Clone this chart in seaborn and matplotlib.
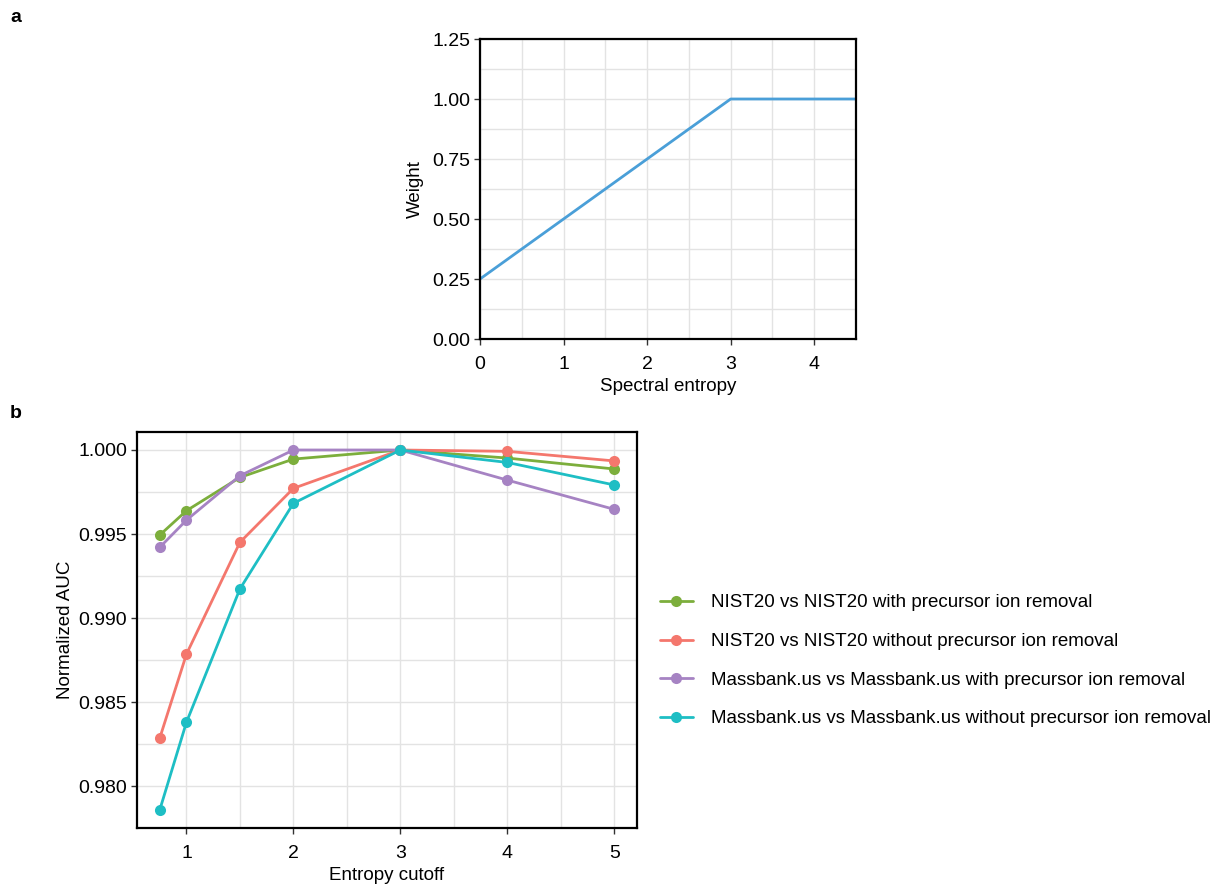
import numpy as np
import pandas as pd
import matplotlib
matplotlib.use("Agg")
import matplotlib.pyplot as plt
from matplotlib.ticker import MultipleLocator, FormatStrFormatter
import seaborn as sns

# Panel a: entropy weighting function
entropy_x = [0.0, 3.0, 4.5]
weight_y = [0.25, 1.0, 1.0]

# Panel b: normalized AUC versus entropy cutoff
cutoffs = [0.75, 1.0, 1.5, 2.0, 3.0, 4.0, 5.0]
series_names = [
    "NIST20 vs NIST20 with precursor ion removal",
    "NIST20 vs NIST20 without precursor ion removal",
    "Massbank.us vs Massbank.us with precursor ion removal",
    "Massbank.us vs Massbank.us without precursor ion removal",
]
nist_with = [0.99494, 0.99639, 0.99837, 0.99946, 1.0, 0.99952, 0.99887]
nist_without = [0.98286, 0.98786, 0.99451, 0.99772, 1.0, 0.99992, 0.99935]
mb_with = [0.99421, 0.99583, 0.99847, 1.0, 1.0, 0.99821, 0.99647]
mb_without = [0.97859, 0.98381, 0.99174, 0.99683, 1.0, 0.99926, 0.99792]
series_colors = ["#7cae3c", "#f4776d", "#a683c3", "#1ebec4"]

sns.set_theme(style="white")
plt.rcParams["font.family"] = ["Liberation Sans", "DejaVu Sans"]
plt.rcParams["text.color"] = "black"
plt.rcParams["axes.labelcolor"] = "black"

TICK_FS = 14
LABEL_FS = 13.5
GRID = "#e3e3e3"

fig = plt.figure(figsize=(12.14, 8.84), dpi=100)


def style_axes(ax):
    for sp in ax.spines.values():
        sp.set_visible(True)
        sp.set_color("black")
        sp.set_linewidth(1.6)
    ax.grid(True, which="both", color=GRID, linewidth=1.0)
    ax.set_axisbelow(True)
    ax.tick_params(axis="both", which="major", direction="out", length=4,
                   width=1.0, color="#333333", labelsize=TICK_FS,
                   labelcolor="black", bottom=True, left=True)
    ax.tick_params(axis="x", which="major", pad=8)
    ax.tick_params(axis="y", which="major", pad=3)
    ax.tick_params(axis="both", which="minor", length=0)


# ---- panel a ----
ax_a = fig.add_axes([480 / 1214, 1 - 339 / 884, 376 / 1214, 300 / 884])
df_a = pd.DataFrame({"entropy": entropy_x, "weight": weight_y})
sns.lineplot(data=df_a, x="entropy", y="weight", ax=ax_a,
             color="#4a9fd8", linewidth=2.0)
ax_a.set_xlim(0, 4.5)
ax_a.set_ylim(0, 1.25)
ax_a.xaxis.set_major_locator(MultipleLocator(1))
ax_a.xaxis.set_minor_locator(MultipleLocator(0.5))
ax_a.yaxis.set_major_locator(MultipleLocator(0.25))
ax_a.yaxis.set_minor_locator(MultipleLocator(0.125))
ax_a.yaxis.set_major_formatter(FormatStrFormatter("%.2f"))
ax_a.set_xlabel("Spectral entropy", fontsize=LABEL_FS, labelpad=3.5)
ax_a.set_ylabel("Weight", fontsize=LABEL_FS, labelpad=6)
style_axes(ax_a)

# ---- panel b ----
ax_b = fig.add_axes([137 / 1214, 1 - 828 / 884, 500 / 1214, 396 / 884])
rows = []
for name, vals in zip(series_names, [nist_with, nist_without, mb_with, mb_without]):
    for c, v in zip(cutoffs, vals):
        rows.append({"cutoff": c, "auc": v, "series": name})
df_b = pd.DataFrame(rows)
sns.lineplot(data=df_b, x="cutoff", y="auc", hue="series",
             hue_order=series_names, palette=series_colors,
             marker="o", markersize=8, markeredgewidth=0,
             linewidth=2.0, ax=ax_b)
xr = max(cutoffs) - min(cutoffs)
ax_b.set_xlim(min(cutoffs) - 0.05 * xr, max(cutoffs) + 0.05 * xr)
all_vals = nist_with + nist_without + mb_with + mb_without
yr = max(all_vals) - min(all_vals)
ax_b.set_ylim(min(all_vals) - 0.05 * yr, max(all_vals) + 0.05 * yr)
ax_b.xaxis.set_major_locator(MultipleLocator(1))
ax_b.xaxis.set_minor_locator(MultipleLocator(0.5))
ax_b.yaxis.set_major_locator(MultipleLocator(0.005))
ax_b.yaxis.set_minor_locator(MultipleLocator(0.0025))
ax_b.yaxis.set_major_formatter(FormatStrFormatter("%.3f"))
ax_b.set_xlabel("Entropy cutoff", fontsize=LABEL_FS, labelpad=3.5)
ax_b.set_ylabel("Normalized AUC", fontsize=LABEL_FS, labelpad=3)
style_axes(ax_b)

handles, labels = ax_b.get_legend_handles_labels()
ax_b.legend(handles, labels, loc="center left", bbox_to_anchor=(1.045, 0.422),
            frameon=False, fontsize=13.5, handlelength=1.8, handletextpad=0.95,
            labelspacing=1.15, borderpad=0, borderaxespad=0)

# panel letters
fig.text(10 / 1214, 1 - 17 / 884, "a", fontsize=14, fontweight="bold",
         va="center", ha="left")
fig.text(10 / 1214, 1 - 413 / 884, "b", fontsize=14, fontweight="bold",
         va="center", ha="left")

fig.savefig("out.png", dpi=100)
